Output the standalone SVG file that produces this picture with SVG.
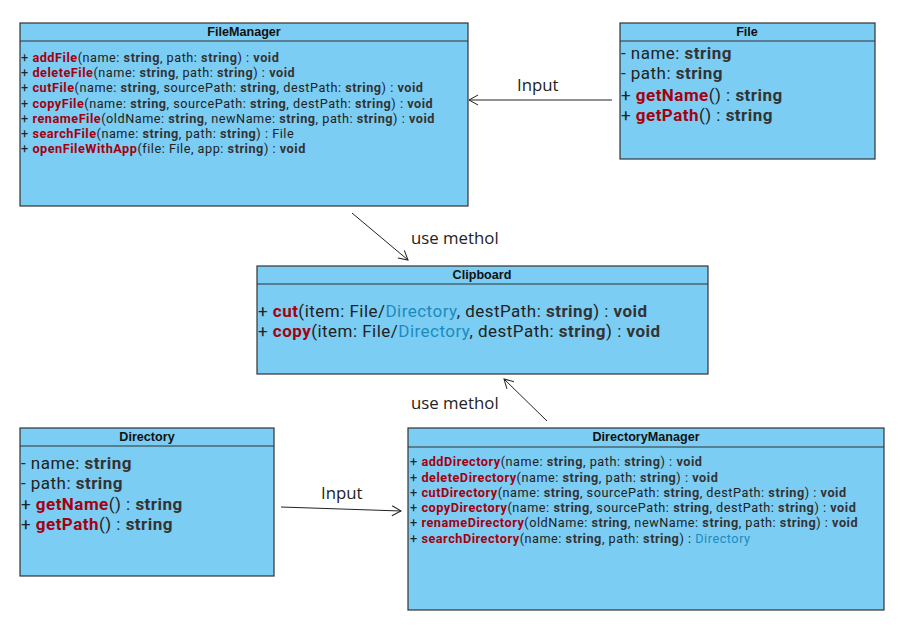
<svg xmlns="http://www.w3.org/2000/svg" width="918" height="634" viewBox="0 0 918 634">
<defs>
<marker id="arr" markerWidth="12" markerHeight="12" refX="10" refY="6" orient="auto" markerUnits="userSpaceOnUse">
<path d="M1,1 L10,6 L1,11" fill="none" stroke="#222" stroke-width="1"/>
</marker>
<style>
.box{fill:#7bcdf3;stroke:#333;stroke-width:1.2}
.sep{stroke:#333;stroke-width:1.2}
.title{font-family:"Liberation Sans",Arial,sans-serif;font-weight:bold;font-size:12.6px;fill:#111;text-anchor:middle}
.sm{font-family:Roboto,"Open Sans",sans-serif;font-size:12.7px;letter-spacing:0.52px;fill:#222}
.lg{font-family:Roboto,"Open Sans",sans-serif;font-size:17px;letter-spacing:0.47px;fill:#222}
.m{font-weight:bold;fill:#a50010}
.b{font-weight:bold;fill:#333}
.d{fill:#1b8bbd}
.lbl{font-family:"Open Sans",sans-serif;font-size:16.8px;fill:#222}
.edge{stroke:#222;stroke-width:1;fill:none;marker-end:url(#arr)}
</style>
</defs>
<rect width="918" height="634" fill="#fff"/>
<g id="FileManager">
<rect class="box" x="20" y="23" width="448" height="183"/>
<line class="sep" x1="20" y1="41" x2="468" y2="41"/>
<text class="title" x="244" y="36">FileManager</text>
<text class="sm"><tspan x="21" y="62">+ </tspan><tspan class="m">addFile</tspan>(name: <tspan class="b">string</tspan>, path: <tspan class="b">string</tspan>) : <tspan class="b">void</tspan><tspan x="21" y="77">+ </tspan><tspan class="m">deleteFile</tspan>(name: <tspan class="b">string</tspan>, path: <tspan class="b">string</tspan>) : <tspan class="b">void</tspan><tspan x="21" y="92">+ </tspan><tspan class="m">cutFile</tspan>(name: <tspan class="b">string</tspan>, sourcePath: <tspan class="b">string</tspan>, destPath: <tspan class="b">string</tspan>) : <tspan class="b">void</tspan><tspan x="21" y="108">+ </tspan><tspan class="m">copyFile</tspan>(name: <tspan class="b">string</tspan>, sourcePath: <tspan class="b">string</tspan>, destPath: <tspan class="b">string</tspan>) : <tspan class="b">void</tspan><tspan x="21" y="123">+ </tspan><tspan class="m">renameFile</tspan>(oldName: <tspan class="b">string</tspan>, newName: <tspan class="b">string</tspan>, path: <tspan class="b">string</tspan>) : <tspan class="b">void</tspan><tspan x="21" y="138">+ </tspan><tspan class="m">searchFile</tspan>(name: <tspan class="b">string</tspan>, path: <tspan class="b">string</tspan>) : File<tspan x="21" y="153">+ </tspan><tspan class="m">openFileWithApp</tspan>(file: File, app: <tspan class="b">string</tspan>) : <tspan class="b">void</tspan></text>
</g>
<g id="File">
<rect class="box" x="620" y="23" width="255" height="136"/>
<line class="sep" x1="620" y1="41" x2="875" y2="41"/>
<text class="title" x="747" y="36">File</text>
<text class="lg"><tspan x="621" y="59">- name: </tspan><tspan class="b">string</tspan><tspan x="621" y="79">- path: </tspan><tspan class="b">string</tspan><tspan x="621" y="101">+ </tspan><tspan class="m">getName</tspan>() : <tspan class="b">string</tspan><tspan x="621" y="121">+ </tspan><tspan class="m">getPath</tspan>() : <tspan class="b">string</tspan></text>
</g>
<g id="Clipboard">
<rect class="box" x="257" y="266" width="451" height="108"/>
<line class="sep" x1="257" y1="284" x2="708" y2="284"/>
<text class="title" x="482" y="279">Clipboard</text>
<text class="lg"><tspan x="258" y="317">+ </tspan><tspan class="m">cut</tspan>(item: File/<tspan class="d">Directory</tspan>, destPath: <tspan class="b">string</tspan>) : <tspan class="b">void</tspan><tspan x="258" y="337">+ </tspan><tspan class="m">copy</tspan>(item: File/<tspan class="d">Directory</tspan>, destPath: <tspan class="b">string</tspan>) : <tspan class="b">void</tspan></text>
</g>
<g id="Directory">
<rect class="box" x="20" y="428" width="254" height="148"/>
<line class="sep" x1="20" y1="446" x2="274" y2="446"/>
<text class="title" x="147" y="441">Directory</text>
<text class="lg"><tspan x="21" y="469">- name: </tspan><tspan class="b">string</tspan><tspan x="21" y="489">- path: </tspan><tspan class="b">string</tspan><tspan x="21" y="510">+ </tspan><tspan class="m">getName</tspan>() : <tspan class="b">string</tspan><tspan x="21" y="530">+ </tspan><tspan class="m">getPath</tspan>() : <tspan class="b">string</tspan></text>
</g>
<g id="DirectoryManager">
<rect class="box" x="408" y="428" width="476" height="182"/>
<line class="sep" x1="408" y1="447" x2="884" y2="447"/>
<text class="title" x="646" y="441">DirectoryManager</text>
<text class="sm"><tspan x="410" y="466">+ </tspan><tspan class="m">addDirectory</tspan>(name: <tspan class="b">string</tspan>, path: <tspan class="b">string</tspan>) : <tspan class="b">void</tspan><tspan x="410" y="482">+ </tspan><tspan class="m">deleteDirectory</tspan>(name: <tspan class="b">string</tspan>, path: <tspan class="b">string</tspan>) : <tspan class="b">void</tspan><tspan x="410" y="497">+ </tspan><tspan class="m">cutDirectory</tspan>(name: <tspan class="b">string</tspan>, sourcePath: <tspan class="b">string</tspan>, destPath: <tspan class="b">string</tspan>) : <tspan class="b">void</tspan><tspan x="410" y="512">+ </tspan><tspan class="m">copyDirectory</tspan>(name: <tspan class="b">string</tspan>, sourcePath: <tspan class="b">string</tspan>, destPath: <tspan class="b">string</tspan>) : <tspan class="b">void</tspan><tspan x="410" y="527">+ </tspan><tspan class="m">renameDirectory</tspan>(oldName: <tspan class="b">string</tspan>, newName: <tspan class="b">string</tspan>, path: <tspan class="b">string</tspan>) : <tspan class="b">void</tspan><tspan x="410" y="543">+ </tspan><tspan class="m">searchDirectory</tspan>(name: <tspan class="b">string</tspan>, path: <tspan class="b">string</tspan>) : <tspan class="d">Directory</tspan></text>
</g>
<g id="connectors">
<line class="edge" x1="612" y1="100" x2="469" y2="100"/>
<text class="lbl" x="517" y="91">Input</text>
<line class="edge" x1="352" y1="213" x2="408" y2="260"/>
<text class="lbl" x="411" y="244">use methol</text>
<line class="edge" x1="547" y1="421" x2="504" y2="379"/>
<text class="lbl" x="411" y="409">use methol</text>
<line class="edge" x1="281" y1="507" x2="401" y2="511"/>
<text class="lbl" x="321" y="499">Input</text>
</g>
</svg>
